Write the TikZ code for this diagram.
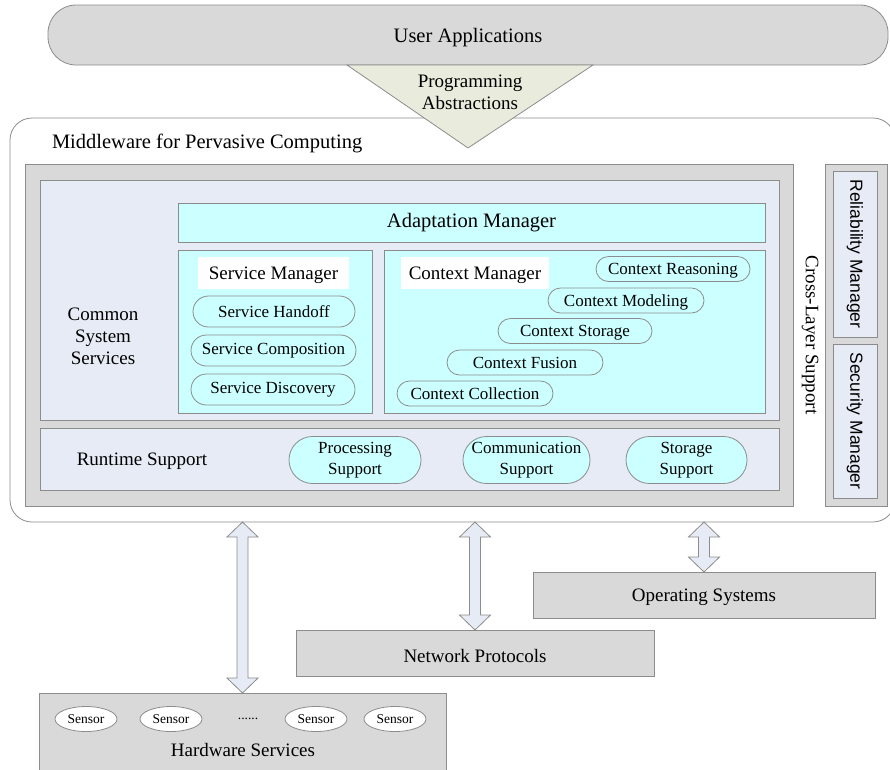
\documentclass[tikz,border=0pt]{standalone}
\usepackage{fontspec}
\setmainfont{Liberation Serif}
\setsansfont{Liberation Sans}
\usetikzlibrary{calc}
\usetikzlibrary{shapes.misc,shapes.geometric}

\definecolor{boxgray}{HTML}{D9D9D9}
\definecolor{linegray}{HTML}{8C8C8C}
\definecolor{paleblue}{HTML}{E6EBF5}
\definecolor{cyanfill}{HTML}{CCFFFF}
\definecolor{olivefill}{HTML}{E9ECDC}

\tikzset{
  every node/.style={inner sep=0pt, outer sep=0pt},
  area/.style={draw=linegray, line width=0.8pt, anchor=north west},
  graybox/.style={area, fill=boxgray},
  bluebox/.style={area, fill=paleblue},
  cyanbox/.style={area, fill=cyanfill},
  tag/.style={anchor=north west, fill=white, text depth=0pt},
  pill/.style={rounded rectangle, draw=linegray, line width=0.8pt, fill=cyanfill},
  ctxpill/.style={pill, small, minimum height=25pt, text depth=0pt},
  sensor/.style={ellipse, draw=linegray, line width=0.8pt, fill=white,
    minimum width=62pt, minimum height=25pt, font=\fontsize{13.5}{15}\selectfont},
  biarrow/.style={draw=linegray, line width=0.8pt, fill=paleblue},
  big/.style={font=\fontsize{20.5}{24}\selectfont},
  mid/.style={font=\fontsize{19}{22}\selectfont},
  small/.style={font=\fontsize{17}{21}\selectfont},
}

% vertical block arrow with heads at both ends
\newcommand{\biarrow}[2]{%
  \draw[biarrow] let \p1=(#1), \p2=(#2) in
    (\x1,\y1) -- (\x1+15.5pt,\y1-15pt) -- (\x1+5.5pt,\y1-15pt)
    -- (\x1+5.5pt,\y2+15pt) -- (\x1+15.5pt,\y2+15pt) -- (\x1,\y2)
    -- (\x1-15.5pt,\y2+15pt) -- (\x1-5.5pt,\y2+15pt)
    -- (\x1-5.5pt,\y1-15pt) -- (\x1-15.5pt,\y1-15pt) -- cycle;}

\begin{document}
\begin{tikzpicture}[x=1pt, y=-1pt]
\useasboundingbox (0,0) rectangle (890,769);

% applications on top
\node[graybox, rounded corners=28pt, minimum width=840pt, minimum height=60pt,
  big, text depth=0pt] (apps) at (48,5) {User Applications};

% middleware frame
\node[area, rounded corners=22pt, minimum width=885pt, minimum height=404pt] (mw) at (10,118) {};
\node[big, anchor=base west] (mwtitle) at (52,148) {Middleware for Pervasive Computing};

% programming abstractions wedge
\filldraw[draw=linegray, line width=0.8pt, fill=olivefill]
  (347,65) -- (593,65) -- (468,148) -- cycle;
\node[mid, align=center] (abs) at (470,92) {Programming\\Abstractions};

\node[graybox, minimum width=768pt, minimum height=342pt] (core) at (25,164) {};
\node[graybox, minimum width=62pt, minimum height=342pt] (side) at (825,164) {};
\node[fill=white, minimum width=30pt, minimum height=341pt, anchor=north west] (cross) at (794,164.5) {};
\node[mid, rotate=-90] (crosslbl) at (810,335) {Cross-Layer Support};

\node[bluebox, minimum width=44pt, minimum height=166pt] (rel) at (833,171) {};
\node[rotate=-90, font=\sffamily\fontsize{17.5}{20}\selectfont] at (rel.center) {Reliability Manager};
\node[bluebox, minimum width=44pt, minimum height=154pt] (sec) at (833,344) {};
\node[rotate=-90, font=\sffamily\fontsize{17.5}{20}\selectfont] at (sec.center) {Security Manager};

% common system services
\node[bluebox, minimum width=739pt, minimum height=240pt] (css) at (40,180) {};
\node[mid, align=center] (csslbl) at (103,336) {Common\\System\\Services};

\node[cyanbox, minimum width=587pt, minimum height=39pt, big] (adapt) at (178,203) {Adaptation Manager};
\node[cyanbox, minimum width=194pt, minimum height=163pt] (smgr) at (178,250) {};
\node[cyanbox, minimum width=381pt, minimum height=163pt] (cmgr) at (384,250) {};
\node[tag, minimum width=151pt, minimum height=32pt, mid] (smgrlbl) at (198,257) {Service Manager};
\node[tag, minimum width=148pt, minimum height=32pt, mid] (cmgrlbl) at (401,257) {Context Manager};

\node[pill, small, minimum width=162pt, minimum height=31pt] (handoff) at (274,311.5) {Service Handoff};
\node[pill, small, minimum width=165pt, minimum height=31pt] (compose) at (273.5,350.5) {Service Composition};
\node[pill, small, minimum width=164pt, minimum height=31pt] (discover) at (273,389.5) {Service Discovery};

\node[ctxpill, minimum width=154pt] (reason) at (673,269) {Context Reasoning};
\node[ctxpill, minimum width=156pt] (model) at (626,300.5) {Context Modeling};
\node[ctxpill, minimum width=154pt] (store) at (575,331) {Context Storage};
\node[ctxpill, minimum width=156pt] (fusion) at (525,362.5) {Context Fusion};
\node[ctxpill, minimum width=156pt] (collect) at (475,393.5) {Context Collection};

% runtime support
\node[bluebox, minimum width=739pt, minimum height=62pt] (rts) at (40,428) {};
\node[mid] (rtslbl) at (142,461) {Runtime Support};
\node[pill, small, align=center, minimum width=132pt, minimum height=47pt] (proc) at (355,460) {Processing\\Support};
\node[pill, small, align=center, minimum width=127pt, minimum height=47pt] (comm) at (526.5,460) {Communication\\Support};
\node[pill, small, align=center, minimum width=121pt, minimum height=47pt] (stor) at (686.5,460) {Storage\\Support};

% lower layers
\node[graybox, minimum width=342pt, minimum height=46pt, mid, text depth=0pt] (os) at (533,572) {Operating Systems};
\node[graybox, minimum width=358pt, minimum height=46pt] (net) at (296,630) {};
\node[mid] (netlbl) at (475,656) {Network Protocols};
\node[graybox, minimum width=407pt, minimum height=90pt] (hw) at (39,693) {};
\node[mid] (hwlbl) at (243,750) {Hardware Services};
\node[sensor] (s1) at (86,719) {Sensor};
\node[sensor] (s2) at (171,719) {Sensor};
\node[font=\fontsize{13.5}{15}\selectfont] (dots) at (248,719) {......};
\node[sensor] (s3) at (316,719) {Sensor};
\node[sensor] (s4) at (395,719) {Sensor};

\biarrow{hw.north |- mw.south}{hw.north}
\biarrow{net.north |- mw.south}{net.north}
\biarrow{os.north |- mw.south}{os.north}
\end{tikzpicture}
\end{document}
